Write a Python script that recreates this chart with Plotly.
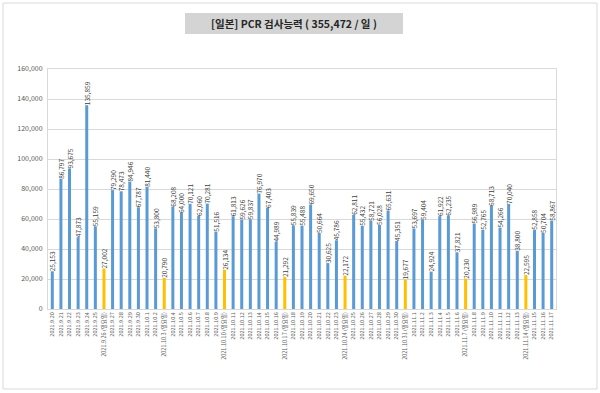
import plotly.graph_objects as go

dates = ["2021.9.20", "2021.9.21", "2021.9.22", "2021.9.23", "2021.9.24", "2021.9.25", "2021.9.26 (일요일)",
         "2021.9.27", "2021.9.28", "2021.9.29", "2021.9.30", "2021.10.1", "2021.10.2", "2021.10.3 (일요일)",
         "2021.10.4", "2021.10.5", "2021.10.6", "2021.10.7", "2021.10.8", "2021.10.9", "2021.10.10 (일요일)",
         "2021.10.11", "2021.10.12", "2021.10.13", "2021.10.14", "2021.10.15", "2021.10.16", "2021.10.17 (일요일)",
         "2021.10.18", "2021.10.19", "2021.10.20", "2021.10.21", "2021.10.22", "2021.10.23", "2021.10.24 (일요일)",
         "2021.10.25", "2021.10.26", "2021.10.27", "2021.10.28", "2021.10.29", "2021.10.30", "2021.10.31 (일요일)",
         "2021.11.1", "2021.11.2", "2021.11.3", "2021.11.4", "2021.11.5", "2021.11.6", "2021.11.7 (일요일)",
         "2021.11.8", "2021.11.9", "2021.11.10", "2021.11.11", "2021.11.12", "2021.11.13", "2021.11.14 (일요일)",
         "2021.11.15", "2021.11.16", "2021.11.17"]

tests = [25153, 86797, 93675, 47873, 135859, 55159, 27002,
         79290, 78473, 84946, 67787, 81440, 53800, 20790,
         68208, 64000, 70121, 62060, 70281, 51516, 26134,
         61813, 59626, 59837, 76970, 67403, 44989, 21292,
         55839, 55488, 69650, 50664, 30625, 45786, 22172,
         62811, 55432, 58721, 56028, 65631, 45351, 19677,
         53697, 59404, 24924, 61922, 62235, 37821, 20230,
         56989, 52765, 68713, 54266, 70040, 38800, 22595,
         52858, 50704, 58867]

y_ticks = [0, 20000, 40000, 60000, 80000, 100000, 120000, 140000, 160000]
title_text = "[일본] PCR 검사능력 ( 355,472 / 일 )"

BLUE = "#5B9BD5"
GOLD = "#FFC000"
colors = [GOLD if "일요일" in d else BLUE for d in dates]

FONT = "Noto Sans CJK KR"

fig = go.Figure()
fig.add_trace(go.Bar(
    x=dates, y=tests,
    marker=dict(color=colors, line=dict(width=0)),
    text=[f"{v:,}" for v in tests],
    textposition="outside",
    textangle=-90,
    constraintext="none",
    cliponaxis=False,
    textfont=dict(size=6.5, color="#404040", family=FONT),
    hoverinfo="x+y",
))

# plot area px: x 48..556, y 69..309
def px_x(p):
    return (p - 48) / 508.0

def px_y(p):
    return (309 - p) / 240.0

shapes = [
    # outer frame
    dict(type="rect", xref="paper", yref="paper",
         x0=px_x(3), x1=px_x(597), y0=px_y(389), y1=px_y(3),
         line=dict(color="#d9d9d9", width=1), fillcolor="rgba(0,0,0,0)", layer="below"),
    # title box
    dict(type="rect", xref="paper", yref="paper",
         x0=px_x(185), x1=px_x(403), y0=px_y(34), y1=px_y(13),
         line=dict(width=0), fillcolor="#d4d4d4", layer="below"),
]

fig.update_layout(
    width=600, height=393,
    margin=dict(l=48, r=44, t=69, b=84),
    paper_bgcolor="white", plot_bgcolor="white",
    bargap=0.65,
    showlegend=False,
    shapes=shapes,
    annotations=[dict(
        text="<b>" + title_text + "</b>", xref="paper", yref="paper",
        x=px_x(294), y=px_y(23.5), xanchor="center", yanchor="middle",
        showarrow=False, font=dict(size=10.5, color="#262626", family=FONT),
    )],
    font=dict(family=FONT),
)

fig.update_yaxes(
    range=[0, 160000], tickvals=y_ticks,
    ticktext=[f"{v:,}" for v in y_ticks],
    showgrid=True, gridcolor="#d9d9d9", gridwidth=1,
    zeroline=False,
    tickfont=dict(size=7, color="#595959", family=FONT),
    ticks="", ticklen=0, ticklabelstandoff=3,
    showline=True, linecolor="#d9d9d9", mirror=True,
    automargin=False,
)
fig.update_xaxes(
    type="category", tickangle=-90,
    tickfont=dict(size=5.5, color="#595959", family=FONT),
    showline=True, linecolor="#d9d9d9", mirror=True,
    showgrid=False, ticks="",
    automargin=False,
)

fig.write_html(
    "out.html",
    config={"displayModeBar": False},
    post_script="document.body.style.margin='0';document.body.style.padding='0';",
)
